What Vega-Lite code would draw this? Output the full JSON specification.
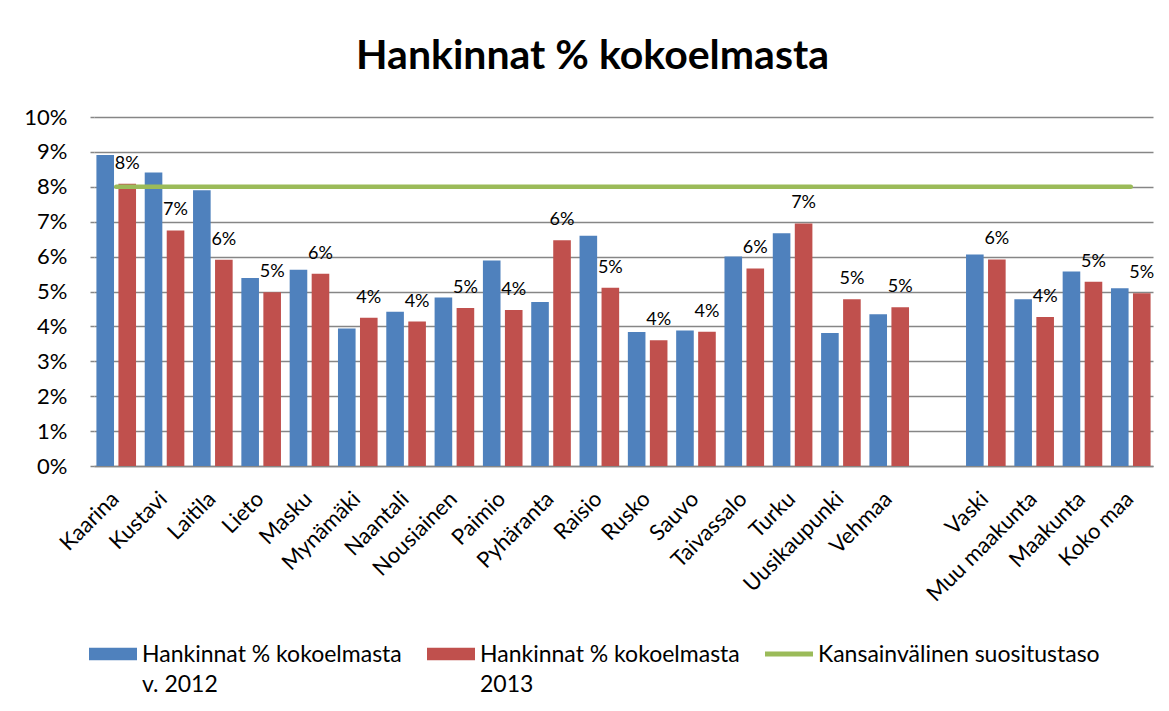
{
  "$schema": "https://vega.github.io/schema/vega-lite/v6.json",
  "width": 1059,
  "height": 349,
  "autosize": "none",
  "padding": {"left": 94, "top": 117, "right": 16, "bottom": 245},
  "background": "white",
  "title": {
    "text": "Hankinnat % kokoelmasta",
    "font": "Lato",
    "fontSize": 41,
    "fontWeight": "bold",
    "color": "#000000",
    "anchor": "middle",
    "frame": "group",
    "baseline": "alphabetic",
    "offset": -4,
    "dx": -31
  },
  "datasets": {
    "hankinnat": [
      {"kunta": "Kaarina", "sarja": "Hankinnat % kokoelmasta|v. 2012", "arvo": 0.0891},
      {"kunta": "Kaarina", "sarja": "Hankinnat % kokoelmasta|2013", "arvo": 0.0809},
      {"kunta": "Kustavi", "sarja": "Hankinnat % kokoelmasta|v. 2012", "arvo": 0.0841},
      {"kunta": "Kustavi", "sarja": "Hankinnat % kokoelmasta|2013", "arvo": 0.0675},
      {"kunta": "Laitila", "sarja": "Hankinnat % kokoelmasta|v. 2012", "arvo": 0.0790},
      {"kunta": "Laitila", "sarja": "Hankinnat % kokoelmasta|2013", "arvo": 0.0591},
      {"kunta": "Lieto", "sarja": "Hankinnat % kokoelmasta|v. 2012", "arvo": 0.0539},
      {"kunta": "Lieto", "sarja": "Hankinnat % kokoelmasta|2013", "arvo": 0.0498},
      {"kunta": "Masku", "sarja": "Hankinnat % kokoelmasta|v. 2012", "arvo": 0.0562},
      {"kunta": "Masku", "sarja": "Hankinnat % kokoelmasta|2013", "arvo": 0.0551},
      {"kunta": "Mynämäki", "sarja": "Hankinnat % kokoelmasta|v. 2012", "arvo": 0.0394},
      {"kunta": "Mynämäki", "sarja": "Hankinnat % kokoelmasta|2013", "arvo": 0.0425},
      {"kunta": "Naantali", "sarja": "Hankinnat % kokoelmasta|v. 2012", "arvo": 0.0442},
      {"kunta": "Naantali", "sarja": "Hankinnat % kokoelmasta|2013", "arvo": 0.0414},
      {"kunta": "Nousiainen", "sarja": "Hankinnat % kokoelmasta|v. 2012", "arvo": 0.0483},
      {"kunta": "Nousiainen", "sarja": "Hankinnat % kokoelmasta|2013", "arvo": 0.0453},
      {"kunta": "Paimio", "sarja": "Hankinnat % kokoelmasta|v. 2012", "arvo": 0.0589},
      {"kunta": "Paimio", "sarja": "Hankinnat % kokoelmasta|2013", "arvo": 0.0447},
      {"kunta": "Pyhäranta", "sarja": "Hankinnat % kokoelmasta|v. 2012", "arvo": 0.0470},
      {"kunta": "Pyhäranta", "sarja": "Hankinnat % kokoelmasta|2013", "arvo": 0.0647},
      {"kunta": "Raisio", "sarja": "Hankinnat % kokoelmasta|v. 2012", "arvo": 0.0660},
      {"kunta": "Raisio", "sarja": "Hankinnat % kokoelmasta|2013", "arvo": 0.0511},
      {"kunta": "Rusko", "sarja": "Hankinnat % kokoelmasta|v. 2012", "arvo": 0.0384},
      {"kunta": "Rusko", "sarja": "Hankinnat % kokoelmasta|2013", "arvo": 0.0360},
      {"kunta": "Sauvo", "sarja": "Hankinnat % kokoelmasta|v. 2012", "arvo": 0.0388},
      {"kunta": "Sauvo", "sarja": "Hankinnat % kokoelmasta|2013", "arvo": 0.0385},
      {"kunta": "Taivassalo", "sarja": "Hankinnat % kokoelmasta|v. 2012", "arvo": 0.0600},
      {"kunta": "Taivassalo", "sarja": "Hankinnat % kokoelmasta|2013", "arvo": 0.0566},
      {"kunta": "Turku", "sarja": "Hankinnat % kokoelmasta|v. 2012", "arvo": 0.0667},
      {"kunta": "Turku", "sarja": "Hankinnat % kokoelmasta|2013", "arvo": 0.0695},
      {"kunta": "Uusikaupunki", "sarja": "Hankinnat % kokoelmasta|v. 2012", "arvo": 0.0381},
      {"kunta": "Uusikaupunki", "sarja": "Hankinnat % kokoelmasta|2013", "arvo": 0.0478},
      {"kunta": "Vehmaa", "sarja": "Hankinnat % kokoelmasta|v. 2012", "arvo": 0.0435},
      {"kunta": "Vehmaa", "sarja": "Hankinnat % kokoelmasta|2013", "arvo": 0.0455},
      {"kunta": "Vaski", "sarja": "Hankinnat % kokoelmasta|v. 2012", "arvo": 0.0606},
      {"kunta": "Vaski", "sarja": "Hankinnat % kokoelmasta|2013", "arvo": 0.0592},
      {"kunta": "Muu maakunta", "sarja": "Hankinnat % kokoelmasta|v. 2012", "arvo": 0.0478},
      {"kunta": "Muu maakunta", "sarja": "Hankinnat % kokoelmasta|2013", "arvo": 0.0427},
      {"kunta": "Maakunta", "sarja": "Hankinnat % kokoelmasta|v. 2012", "arvo": 0.0557},
      {"kunta": "Maakunta", "sarja": "Hankinnat % kokoelmasta|2013", "arvo": 0.0528},
      {"kunta": "Koko maa", "sarja": "Hankinnat % kokoelmasta|v. 2012", "arvo": 0.0509},
      {"kunta": "Koko maa", "sarja": "Hankinnat % kokoelmasta|2013", "arvo": 0.0495}
    ],
    "suositus": [
      {"kunta": "Kaarina", "sarja": "Kansainvälinen suositustaso", "arvo": 0.08},
      {"kunta": "Kustavi", "sarja": "Kansainvälinen suositustaso", "arvo": 0.08},
      {"kunta": "Laitila", "sarja": "Kansainvälinen suositustaso", "arvo": 0.08},
      {"kunta": "Lieto", "sarja": "Kansainvälinen suositustaso", "arvo": 0.08},
      {"kunta": "Masku", "sarja": "Kansainvälinen suositustaso", "arvo": 0.08},
      {"kunta": "Mynämäki", "sarja": "Kansainvälinen suositustaso", "arvo": 0.08},
      {"kunta": "Naantali", "sarja": "Kansainvälinen suositustaso", "arvo": 0.08},
      {"kunta": "Nousiainen", "sarja": "Kansainvälinen suositustaso", "arvo": 0.08},
      {"kunta": "Paimio", "sarja": "Kansainvälinen suositustaso", "arvo": 0.08},
      {"kunta": "Pyhäranta", "sarja": "Kansainvälinen suositustaso", "arvo": 0.08},
      {"kunta": "Raisio", "sarja": "Kansainvälinen suositustaso", "arvo": 0.08},
      {"kunta": "Rusko", "sarja": "Kansainvälinen suositustaso", "arvo": 0.08},
      {"kunta": "Sauvo", "sarja": "Kansainvälinen suositustaso", "arvo": 0.08},
      {"kunta": "Taivassalo", "sarja": "Kansainvälinen suositustaso", "arvo": 0.08},
      {"kunta": "Turku", "sarja": "Kansainvälinen suositustaso", "arvo": 0.08},
      {"kunta": "Uusikaupunki", "sarja": "Kansainvälinen suositustaso", "arvo": 0.08},
      {"kunta": "Vehmaa", "sarja": "Kansainvälinen suositustaso", "arvo": 0.08},
      {"kunta": " ", "sarja": "Kansainvälinen suositustaso", "arvo": 0.08},
      {"kunta": "Vaski", "sarja": "Kansainvälinen suositustaso", "arvo": 0.08},
      {"kunta": "Muu maakunta", "sarja": "Kansainvälinen suositustaso", "arvo": 0.08},
      {"kunta": "Maakunta", "sarja": "Kansainvälinen suositustaso", "arvo": 0.08},
      {"kunta": "Koko maa", "sarja": "Kansainvälinen suositustaso", "arvo": 0.08}
    ]
  },
  "encoding": {
    "x": {
      "field": "kunta",
      "type": "nominal",
      "scale": {
        "domain": ["Kaarina", "Kustavi", "Laitila", "Lieto", "Masku", "Mynämäki", "Naantali", "Nousiainen", "Paimio", "Pyhäranta", "Raisio", "Rusko", "Sauvo", "Taivassalo", "Turku", "Uusikaupunki", "Vehmaa", " ", "Vaski", "Muu maakunta", "Maakunta", "Koko maa"],
        "paddingInner": 0.18,
        "paddingOuter": 0.05
      },
      "axis": {
        "title": null,
        "labelAngle": -45,
        "labelFont": "Lato",
        "labelFontSize": 22,
        "labelColor": "#000000",
        "labelPadding": 22,
        "labelOffset": -8,
        "ticks": false,
        "domainColor": "#868686",
        "domainWidth": 1.5,
        "grid": false
      }
    },
    "y": {
      "field": "arvo",
      "type": "quantitative",
      "scale": {"domain": [0, 0.1], "nice": false},
      "axis": {
        "title": null,
        "format": ".0%",
        "values": [0, 0.01, 0.02, 0.03, 0.04, 0.05, 0.06, 0.07, 0.08, 0.09, 0.1],
        "labelFont": "Lato",
        "labelFontSize": 22,
        "labelColor": "#000000",
        "labelPadding": 23,
        "domain": false,
        "ticks": true,
        "tickSize": 4,
        "tickColor": "#868686",
        "tickWidth": 1.5,
        "grid": true,
        "gridColor": "#868686",
        "gridWidth": 1.5
      }
    }
  },
  "layer": [
    {
      "data": {"name": "hankinnat"},
      "mark": {"type": "bar"},
      "encoding": {
        "xOffset": {
          "field": "sarja",
          "type": "nominal",
          "scale": {"domain": ["Hankinnat % kokoelmasta|v. 2012", "Hankinnat % kokoelmasta|2013"], "paddingInner": 0.2, "paddingOuter": 0}
        },
        "color": {
          "field": "sarja",
          "type": "nominal",
          "scale": {
            "domain": ["Hankinnat % kokoelmasta|v. 2012", "Hankinnat % kokoelmasta|2013", "Kansainvälinen suositustaso"],
            "range": ["#4F81BD", "#C0504D", "#9BBB59"]
          },
          "legend": {
            "orient": "none",
            "legendX": -5,
            "legendY": 513,
            "direction": "horizontal",
            "columns": 3,
            "columnPadding": 25,
            "title": null,
            "labelExpr": "datum.value == 'Kansainvälinen suositustaso' ? [datum.label, ' '] : split(datum.label, '|')",
            "labelFont": "Lato",
            "labelFontSize": 23,
            "labelColor": "#000000",
            "labelLimit": 500,
            "labelOffset": 5,
            "labelBaseline": "top",
            "symbolSize": 2304,
            "symbolStrokeWidth": 0,
            "encode": {
              "symbols": {
                "update": {
                  "shape": {"signal": "datum.value == 'Kansainvälinen suositustaso' ? 'M-1,-0.1H1V0.1H-1Z' : 'M-1,-0.265H1V0.265H-1Z'"},
                  "fill": {"scale": "color", "field": "value"},
                  "strokeWidth": {"value": 0},
                  "opacity": {"value": 1}
                }
              },
              "labels": {
                "update": {
                  "lineHeight": {"value": 30},
                  "dy": {"value": -10}
                }
              }
            }
          }
        }
      }
    },
    {
      "data": {"name": "suositus"},
      "mark": {"type": "line", "strokeWidth": 4.5, "strokeCap": "round"},
      "encoding": {
        "color": {"field": "sarja", "type": "nominal"}
      }
    },
    {
      "data": {"name": "hankinnat"},
      "transform": [{"filter": "datum.sarja == 'Hankinnat % kokoelmasta|2013'"}],
      "mark": {"type": "text", "baseline": "alphabetic", "dy": -15, "font": "Lato", "fontSize": 18, "color": "#000000"},
      "encoding": {
        "xOffset": {"field": "sarja", "type": "nominal"},
        "text": {"field": "arvo", "type": "quantitative", "format": ".0%"}
      }
    }
  ],
  "config": {
    "view": {"stroke": null}
  }
}
